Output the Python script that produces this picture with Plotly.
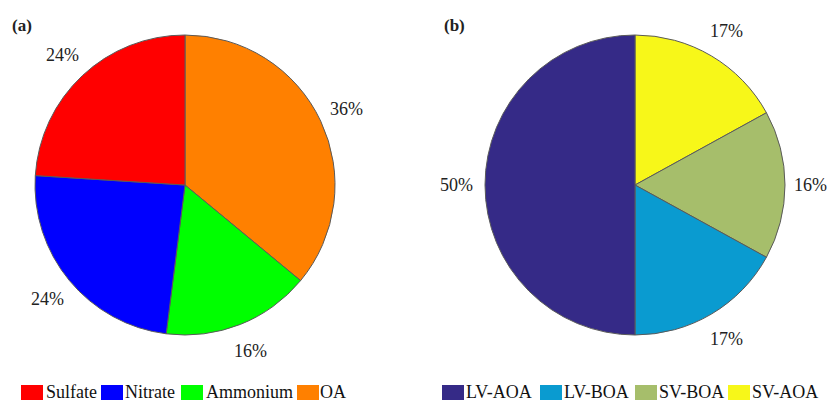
import math
import plotly.graph_objects as go

W, H = 829, 401

# Panel (a) (legend order; slices run counterclockwise from 12 o'clock in this order)
labels_a = ["Sulfate", "Nitrate", "Ammonium", "OA"]
values_a = [24, 24, 16, 36]
colors_a = ["#FF0000", "#0000FF", "#00FF00", "#FF8000"]

# Panel (b)
labels_b = ["LV-AOA", "LV-BOA", "SV-BOA", "SV-AOA"]
values_b = [50, 17, 16, 17]
colors_b = ["#352A87", "#0A9BD0", "#A6BE6B", "#F7F719"]

FONT = "'Liberation Serif', 'Times New Roman', Times, serif"
R = 150
CY = 185
centers = [185, 635]
R_LABEL = 179

# legend layout (pixel x of each colour box left edge / label left edge)
legend_box_x = [[21, 101, 181, 297], [442, 540, 635, 728]]
legend_text_x = [[46, 125, 206, 320], [466, 564, 659, 752]]
LEG_Y0, LEG_Y1 = 385, 400

fig = go.Figure()


def px_dom(cx):
    return dict(x=[(cx - R) / W, (cx + R) / W], y=[(H - CY - R) / H, (H - CY + R) / H])


for i, (labs, vals, cols) in enumerate([(labels_a, values_a, colors_a), (labels_b, values_b, colors_b)]):
    # drawn clockwise from 12 o'clock in reversed order == counterclockwise in legend order
    fig.add_trace(go.Pie(
        labels=labs[::-1], values=vals[::-1], sort=False, direction="clockwise", rotation=0,
        marker=dict(colors=cols[::-1], line=dict(color="#5a5a5a", width=1)),
        textinfo="none", hoverinfo="label+percent",
        domain=px_dom(centers[i]), showlegend=False,
    ))
    # percent labels outside each slice (counterclockwise from 12 o'clock)
    total = sum(vals)
    cum = 0
    for v in vals:
        mid = (cum + v / 2) / total * 2 * math.pi
        cum += v
        x = centers[i] - R_LABEL * math.sin(mid)
        y = CY - R_LABEL * math.cos(mid)
        x = min(x, W - 19)  # keep label inside the page
        fig.add_annotation(x=x / W, y=1 - y / H, xref="paper", yref="paper",
                           text=f"{round(v / total * 100)}%", showarrow=False,
                           font=dict(family=FONT, size=18, color="#222"),
                           xanchor="center", yanchor="middle")
    # legend: colour box + label
    for j, (lab, col) in enumerate(zip(labs, cols)):
        bx = legend_box_x[i][j]
        fig.add_shape(type="rect", xref="paper", yref="paper",
                      x0=bx / W, x1=(bx + 22) / W, y0=1 - LEG_Y1 / H, y1=1 - LEG_Y0 / H,
                      fillcolor=col, line=dict(width=0))
        fig.add_annotation(x=legend_text_x[i][j] / W, y=1 - 392 / H, xref="paper", yref="paper",
                           text=lab, showarrow=False,
                           font=dict(family=FONT, size=18, color="#111"),
                           xanchor="left", yanchor="middle", xshift=-2)

fig.add_annotation(x=12 / W, y=1 - 25 / H, xref="paper", yref="paper", text="<b>(a)</b>",
                   showarrow=False, font=dict(family=FONT, size=17, color="#222"),
                   xanchor="left", yanchor="middle", xshift=-2)
fig.add_annotation(x=444 / W, y=1 - 25 / H, xref="paper", yref="paper", text="<b>(b)</b>",
                   showarrow=False, font=dict(family=FONT, size=17, color="#222"),
                   xanchor="left", yanchor="middle", xshift=-2)

fig.update_layout(
    width=W, height=H, margin=dict(l=0, r=0, t=0, b=0),
    paper_bgcolor="white", plot_bgcolor="white", showlegend=False,
)

fig.write_html("out.html")
